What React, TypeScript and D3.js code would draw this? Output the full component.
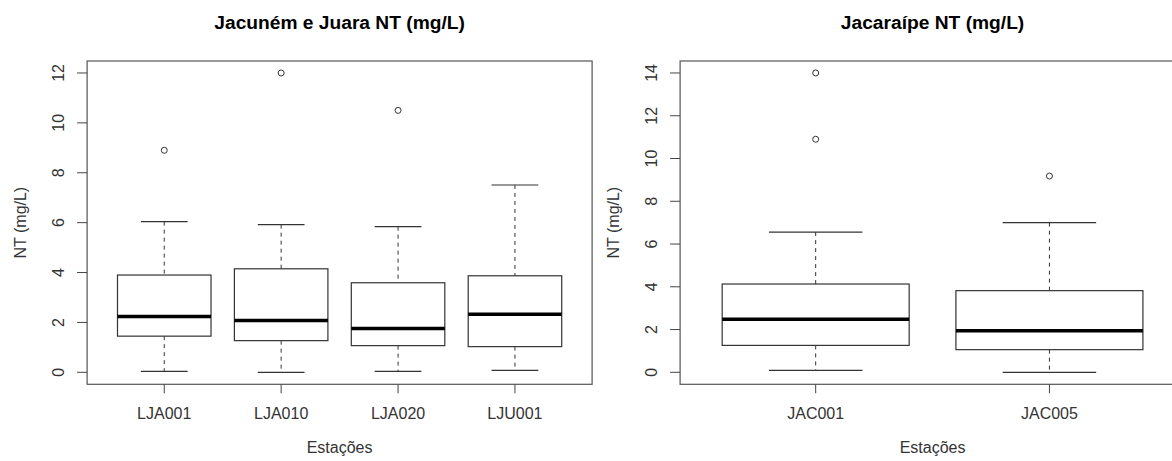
import React from 'react';
import * as d3 from 'd3';

// ---- Data: left panel (Jacuném e Juara) ----
const stationsA = ['LJA001', 'LJA010', 'LJA020', 'LJU001'];
const lowA = [0.04, 0.0, 0.04, 0.08];
const q1A = [1.45, 1.27, 1.07, 1.03];
const medA = [2.24, 2.08, 1.76, 2.33];
const q3A = [3.9, 4.15, 3.59, 3.87];
const highA = [6.04, 5.92, 5.84, 7.51];
const outliersA = [[8.9], [12.0], [10.5], []];
const yTicksA = [0, 2, 4, 6, 8, 10, 12];

// ---- Data: right panel (Jacaraípe) ----
const stationsB = ['JAC001', 'JAC005'];
const lowB = [0.09, 0.0];
const q1B = [1.26, 1.06];
const medB = [2.48, 1.95];
const q3B = [4.13, 3.82];
const highB = [6.56, 7.0];
const outliersB = [[14.0, 10.9], [9.18]];
const yTicksB = [0, 2, 4, 6, 8, 10, 12, 14];

const FONT = '"Liberation Sans", Arial, sans-serif';

type PanelProps = {
  left: number;
  right: number;
  top: number;
  bottom: number;
  title: string;
  stations: string[];
  low: number[];
  q1: number[];
  med: number[];
  q3: number[];
  high: number[];
  outliers: number[][];
  yTicks: number[];
};

function Panel(p: PanelProps) {
  const n = p.stations.length;
  const x = d3
    .scaleLinear()
    .domain([0.5 - 0.04 * n, n + 0.5 + 0.04 * n])
    .range([p.left, p.right]);
  const yMin = 0;
  const yMax = d3.max(p.yTicks) as number;
  const ext = (yMax - yMin) * 0.04;
  const y = d3.scaleLinear().domain([yMin - ext, yMax + ext]).range([p.bottom, p.top]);
  const unit = x(2) - x(1);
  const boxW = 0.8 * unit;
  const stapleW = 0.5 * boxW;
  const cx = (p.left + p.right) / 2;
  const line = '#333';

  return (
    <g>
      <text
        x={cx}
        y={29}
        textAnchor="middle"
        fontFamily={FONT}
        fontWeight="bold"
        fontSize={19.2}
        fill="#000"
      >
        {p.title}
      </text>
      {/* frame */}
      <rect
        x={p.left}
        y={p.top}
        width={p.right - p.left}
        height={p.bottom - p.top}
        fill="none"
        stroke="#555"
        strokeWidth={1.2}
      />
      {/* y axis ticks */}
      {p.yTicks.map((t) => (
        <g key={'yt' + t}>
          <line x1={p.left - 10} x2={p.left} y1={y(t)} y2={y(t)} stroke="#444" strokeWidth={1} />
          <text
            transform={`translate(${p.left - 23},${y(t)}) rotate(-90)`}
            textAnchor="middle"
            fontFamily={FONT}
            fontSize={16}
            fill="#333"
          >
            {t}
          </text>
        </g>
      ))}
      <text
        transform={`translate(${p.left - 61},${(p.top + p.bottom) / 2}) rotate(-90)`}
        textAnchor="middle"
        fontFamily={FONT}
        fontSize={16}
        fill="#333"
      >
        NT (mg/L)
      </text>
      {/* x axis ticks */}
      {p.stations.map((s, i) => (
        <g key={'xt' + s}>
          <line x1={x(i + 1)} x2={x(i + 1)} y1={p.bottom} y2={p.bottom + 9} stroke="#444" strokeWidth={1} />
          <text
            x={x(i + 1)}
            y={p.bottom + 35}
            textAnchor="middle"
            fontFamily={FONT}
            fontSize={16}
            fill="#333"
          >
            {s}
          </text>
        </g>
      ))}
      <text
        x={cx}
        y={p.bottom + 69}
        textAnchor="middle"
        fontFamily={FONT}
        fontSize={16}
        fill="#333"
      >
        Estações
      </text>
      {/* boxes */}
      {p.stations.map((s, i) => {
        const xc = x(i + 1);
        return (
          <g key={'bx' + s}>
            <line x1={xc} x2={xc} y1={y(p.high[i])} y2={y(p.q3[i])} stroke={line} strokeDasharray="4,4" />
            <line x1={xc} x2={xc} y1={y(p.q1[i])} y2={y(p.low[i])} stroke={line} strokeDasharray="4,4" />
            <line
              x1={xc - stapleW / 2}
              x2={xc + stapleW / 2}
              y1={y(p.high[i])}
              y2={y(p.high[i])}
              stroke={line}
              strokeWidth={1.2}
            />
            <line
              x1={xc - stapleW / 2}
              x2={xc + stapleW / 2}
              y1={y(p.low[i])}
              y2={y(p.low[i])}
              stroke={line}
              strokeWidth={1.2}
            />
            <rect
              x={xc - boxW / 2}
              y={y(p.q3[i])}
              width={boxW}
              height={y(p.q1[i]) - y(p.q3[i])}
              fill="#fff"
              stroke={line}
              strokeWidth={1.2}
            />
            <line
              x1={xc - boxW / 2}
              x2={xc + boxW / 2}
              y1={y(p.med[i])}
              y2={y(p.med[i])}
              stroke="#000"
              strokeWidth={3.5}
            />
            {p.outliers[i].map((o, j) => (
              <circle key={j} cx={xc} cy={y(o)} r={3} fill="none" stroke={line} strokeWidth={1} />
            ))}
          </g>
        );
      })}
    </g>
  );
}

export default function App() {
  return (
    <svg
      width={1172}
      height={461}
      style={{ position: 'absolute', left: 0, top: 0, background: '#fff' }}
    >
      <rect x={0} y={0} width={1172} height={461} fill="#fff" />
      <Panel
        left={87.1}
        right={592.1}
        top={61}
        bottom={384.3}
        title="Jacuném e Juara NT (mg/L)"
        stations={stationsA}
        low={lowA}
        q1={q1A}
        med={medA}
        q3={q3A}
        high={highA}
        outliers={outliersA}
        yTicks={yTicksA}
      />
      <Panel
        left={680.1}
        right={1185}
        top={61}
        bottom={384.3}
        title="Jacaraípe NT (mg/L)"
        stations={stationsB}
        low={lowB}
        q1={q1B}
        med={medB}
        q3={q3B}
        high={highB}
        outliers={outliersB}
        yTicks={yTicksB}
      />
    </svg>
  );
}
